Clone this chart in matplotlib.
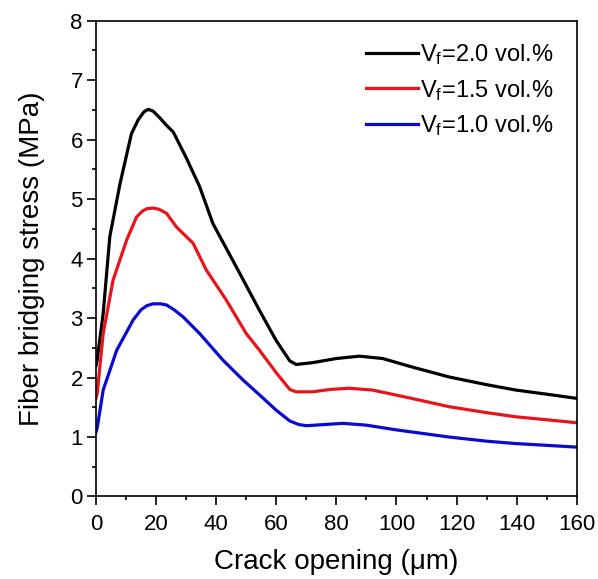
import matplotlib
matplotlib.use("Agg")
import matplotlib.pyplot as plt
from matplotlib.ticker import MultipleLocator

plt.rcParams['font.family'] = ['Liberation Sans', 'DejaVu Sans']
plt.rcParams['mathtext.fontset'] = 'custom'
plt.rcParams['mathtext.rm'] = 'Liberation Sans'
plt.rcParams['mathtext.it'] = 'Liberation Sans'

# Vf = 2.0 vol.%
x_20 = [0.0, 0.4, 2.4, 4.6, 8.0, 11.8, 14.0, 16.0, 17.4, 19.0, 21.0, 23.5, 25.7, 30.0, 34.5, 38.9, 46.7, 54.4, 60.0, 64.5, 66.6, 72.0, 80.0, 87.6, 95.4, 105.0, 117.5, 130.0, 139.7, 150.0, 160.0]
y_20 = [2.2, 2.3, 3.08, 4.37, 5.26, 6.10, 6.33, 6.47, 6.51, 6.48, 6.38, 6.24, 6.13, 5.70, 5.21, 4.59, 3.86, 3.13, 2.62, 2.28, 2.22, 2.25, 2.32, 2.36, 2.32, 2.18, 2.01, 1.88, 1.79, 1.72, 1.65]

# Vf = 1.5 vol.%
x_15 = [0.0, 0.4, 2.4, 5.7, 10.2, 13.5, 15.5, 17.0, 19.0, 21.0, 23.5, 26.8, 32.3, 36.7, 43.4, 50.0, 54.4, 60.0, 64.5, 66.6, 72.0, 78.0, 84.3, 92.0, 105.0, 117.5, 130.0, 139.7, 150.0, 160.0]
y_15 = [1.65, 1.73, 2.74, 3.64, 4.31, 4.70, 4.80, 4.84, 4.85, 4.83, 4.76, 4.53, 4.26, 3.81, 3.30, 2.74, 2.46, 2.08, 1.80, 1.76, 1.76, 1.80, 1.82, 1.79, 1.65, 1.51, 1.41, 1.34, 1.29, 1.24]

# Vf = 1.0 vol.%
x_10 = [0.0, 0.4, 2.4, 6.9, 12.4, 15.0, 17.0, 19.0, 21.5, 23.5, 26.0, 29.0, 34.5, 42.3, 48.9, 54.4, 60.0, 64.5, 67.5, 70.0, 76.0, 82.1, 89.9, 100.0, 117.5, 130.0, 139.7, 150.0, 160.0]
y_10 = [1.08, 1.15, 1.79, 2.46, 2.97, 3.14, 3.21, 3.24, 3.24, 3.22, 3.14, 3.02, 2.74, 2.29, 1.96, 1.71, 1.45, 1.27, 1.21, 1.19, 1.21, 1.23, 1.20, 1.12, 1.00, 0.93, 0.89, 0.86, 0.83]

labels = [r'V$_\mathrm{f}$=2.0 vol.%', r'V$_\mathrm{f}$=1.5 vol.%', r'V$_\mathrm{f}$=1.0 vol.%']
colors = ['#000000', '#e8141c', '#0a0ad2']

fig = plt.figure(figsize=(5.98, 5.79), dpi=100)
ax = fig.add_axes([0.1605, 0.1425, 0.804, 0.8217])

for xs, ys, lab, c in zip([x_20, x_15, x_10], [y_20, y_15, y_10], labels, colors):
    ax.plot(xs, ys, color=c, lw=2.3, label=lab, solid_joinstyle='round')

ax.set_xlim(0, 160)
ax.set_ylim(0, 8)
ax.xaxis.set_major_locator(MultipleLocator(20))
ax.xaxis.set_minor_locator(MultipleLocator(10))
ax.yaxis.set_major_locator(MultipleLocator(1))
ax.yaxis.set_minor_locator(MultipleLocator(0.5))
ax.tick_params(which='major', direction='out', length=6.5, width=1.2, labelsize=16, pad=3)
ax.tick_params(axis='x', which='major', pad=6)
ax.tick_params(which='minor', direction='out', length=3.2, width=1.2)
for s in ax.spines.values():
    s.set_linewidth(1.2)

ax.set_xlabel('Crack opening (μm)', fontsize=20, labelpad=10)
ax.set_ylabel('Fiber bridging stress (MPa)', fontsize=20, labelpad=18)

leg = ax.legend(loc='upper right', frameon=False, fontsize=17, handlelength=2.2,
                handletextpad=0.1, labelspacing=0.45, borderpad=0, borderaxespad=0,
                bbox_to_anchor=(0.952, 0.955))

fig.savefig('out.png', dpi=100)
